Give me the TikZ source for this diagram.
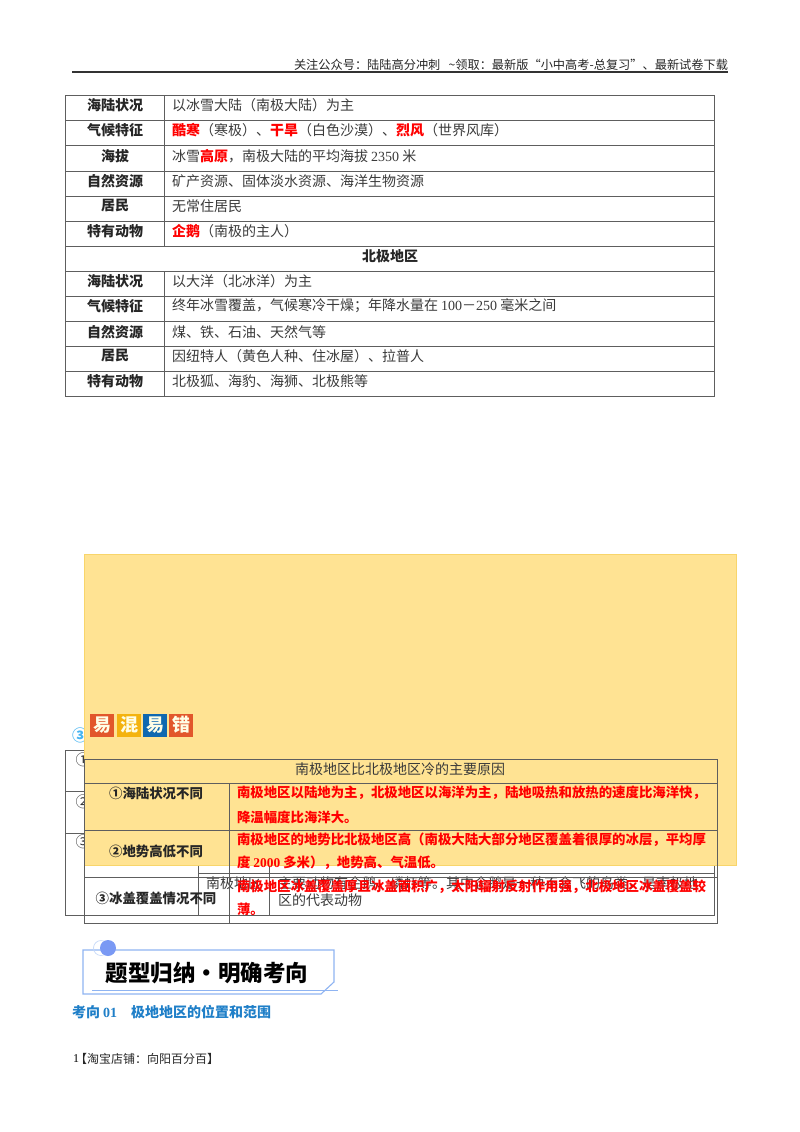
\documentclass[tikz,border=0pt]{standalone}
\usepackage{fontspec}
\setmainfont{Noto Sans CJK SC}
\newfontfamily\latinserif{Liberation Serif}
\newcommand{\dg}[1]{{\latinserif #1}}
\definecolor{ink}{HTML}{3A3A3A}
\definecolor{rule}{HTML}{5E5E5E}
\definecolor{paleyellow}{HTML}{FFE393}
\definecolor{edgeyellow}{HTML}{F8D56B}
\definecolor{headblue}{HTML}{1F7FC8}
\definecolor{framblue}{HTML}{8FB4F2}
\definecolor{tileorange}{HTML}{E2572B}
\definecolor{tileyellow}{HTML}{F4B30F}
\definecolor{tileblue}{HTML}{0F68B0}
\definecolor{circleblue}{HTML}{45B4F2}
\tikzset{
  every node/.style={inner sep=0pt,outer sep=0pt,anchor=center},
  gridline/.style={draw=rule,line width=1pt},
  head/.style={font=\fontsize{14}{14}\selectfont\bfseries,text=black!85},
  body/.style={font=\fontsize{14}{14}\selectfont,text=ink,anchor=west},
  small/.style={font=\fontsize{13.4}{13.4}\selectfont\bfseries,text=black!85},
  redtext/.style={font=\fontsize{13.4}{13.4}\selectfont\bfseries,text=red,anchor=west},
  under/.style={font=\fontsize{14}{14}\selectfont,text=ink,anchor=west},
  tile/.style={minimum width=23.5pt,minimum height=23pt,font=\fontsize{18}{18}\selectfont\bfseries,text=white!90!yellow},
}
\begin{document}
\begin{tikzpicture}[x=1pt,y=-1pt]
\useasboundingbox (0,0) rectangle (800,1132);
\fill[white] (0,0) rectangle (800,1132);
% running header
\node[anchor=east,font=\fontsize{12.2}{12}\selectfont,text=black!85] (hdr) at (728,65) {关注公众号：陆陆高分冲刺\ \ \ \textasciitilde 领取：最新版“小中高考-总复习”、最新试卷下载};
\draw[line width=2pt,black!80] (72,72) -- (728,72);
% upper table
\draw[gridline] (65,95.5) rectangle (714,396);
\foreach \yy in {120.5,145.5,171,196,221,246,271,296,321,346.5,371}
  \draw[gridline] (65,\yy) -- (714,\yy);
\draw[gridline] (164,95.5) -- (164,246);
\draw[gridline] (164,271) -- (164,396);
\node[head] (a1) at (115,105.5) {海陆状况};
\node[head] (a2) at (115,130) {气候特征};
\node[head] (a3) at (115,156) {海拔};
\node[head] (a4) at (115,181) {自然资源};
\node[head] (a5) at (115,206) {居民};
\node[head] (a6) at (115,231) {特有动物};
\node[head] (a7) at (390,256) {北极地区};
\node[head] (a8) at (115,281) {海陆状况};
\node[head] (a9) at (115,306) {气候特征};
\node[head] (a10) at (115,332) {自然资源};
\node[head] (a11) at (115,356) {居民};
\node[head] (a12) at (115,381) {特有动物};
\node[body] (b1) at (172,105.5) {以冰雪大陆（南极大陆）为主};
\node[body] (b2) at (172,130) {\textcolor{red}{\bfseries 酷寒}（寒极）、\textcolor{red}{\bfseries 干旱}（白色沙漠）、\textcolor{red}{\bfseries 烈风}（世界风库）};
\node[body] (b3) at (172,156) {冰雪\textcolor{red}{\bfseries 高原}，南极大陆的平均海拔 \dg{2350} 米};
\node[body] (b4) at (172,181) {矿产资源、固体淡水资源、海洋生物资源};
\node[body] (b5) at (172,206) {无常住居民};
\node[body] (b6) at (172,231) {\textcolor{red}{\bfseries 企鹅}（南极的主人）};
\node[body] (b8) at (172,281) {以大洋（北冰洋）为主};
\node[body] (b9) at (172,306) {终年冰雪覆盖，气候寒冷干燥；年降水量在 \dg{100}－\dg{250} 毫米之间};
\node[body] (b10) at (172,332) {煤、铁、石油、天然气等};
\node[body] (b11) at (172,356) {因纽特人（黄色人种、住冰屋）、拉普人};
\node[body] (b12) at (172,381) {北极狐、海豹、海狮、北极熊等};
% table lying underneath the yellow panel
\draw[gridline] (65,750) rectangle (714,915);
\draw[gridline] (65,791.7) -- (714,791.7);
\draw[gridline] (65,833) -- (714,833);
\draw[gridline] (198,873) -- (714,873);
\draw[gridline] (198,750) -- (198,915);
\draw[gridline] (269,750) -- (269,915);
\node[font=\fontsize{15}{15}\selectfont,text=black!80] (u1) at (83,760) {①};
\node[font=\fontsize{15}{15}\selectfont,text=black!80] (u2) at (83,802) {②};
\node[font=\fontsize{15}{15}\selectfont,text=black!80] (u3) at (83,842) {③};
\node[font=\fontsize{16}{16}\selectfont\bfseries,text=circleblue] (u0) at (80,735) {③};
\node[under] (u4) at (206,883) {南极地区};
\node[under] (u5) at (278,883) {主要动物有企鹅、磷虾等。其中企鹅是一种不会飞的鸟类，是南极地};
\node[under] (u6) at (278,900) {区的代表动物};
% yellow panel
\fill[paleyellow,draw=edgeyellow,line width=0.8pt] (84,554) rectangle (736,865.5);
% tiles
\node[tile,fill=tileorange] (t1) at (102,725) {易};
\node[tile,fill=tileyellow] (t2) at (129,725) {混};
\node[tile,fill=tileblue] (t3) at (155,725) {易};
\node[tile,fill=tileorange] (t4) at (181,725) {错};
% overlay table
\draw[gridline] (84,759) rectangle (717,923);
\draw[gridline] (84,783) -- (717,783);
\draw[gridline] (84,830) -- (717,830);
\draw[gridline] (84,877) -- (717,877);
\draw[gridline] (229,783) -- (229,923);
\node[font=\fontsize{14}{14}\selectfont,text=ink] (c0) at (400,769) {南极地区比北极地区冷的主要原因};
\node[small] (c1) at (156,793) {①海陆状况不同};
\node[small] (c2) at (156,851) {②地势高低不同};
\node[small] (c3) at (156,898) {③冰盖覆盖情况不同};
\node[redtext] (r1) at (237,793) {南极地区以陆地为主，北极地区以海洋为主，陆地吸热和放热的速度比海洋快，};
\node[redtext] (r2) at (237,817) {降温幅度比海洋大。};
\node[redtext] (r3) at (237,840) {南极地区的地势比北极地区高（南极大陆大部分地区覆盖着很厚的冰层，平均厚};
\node[redtext] (r4) at (237,863) {度 \dg{2000} 多米），地势高、气温低。};
\node[redtext] (r5) at (237,887) {南极地区冰盖覆盖厚且冰盖面积广，太阳辐射反射作用强，北极地区冰盖覆盖较};
\node[redtext] (r6) at (237,909) {薄。};
% banner
\draw[framblue,line width=1.1pt] (83,950) -- (334,950) -- (334,982) -- (321,994) -- (83,994) -- cycle;
\fill[white] (84,986) rectangle (92,993);
\draw[framblue,line width=0.7pt] (92,990) -- (338,990);
\draw[framblue!50,line width=0.7pt] (101,948) circle (7.5);
\fill[framblue!85!blue] (108,948) circle (8);
\node[font=\fontsize{22.5}{23}\selectfont\bfseries,text=black] (ban) at (207,973) {题型归纳·明确考向};
% section heading and footer
\node[anchor=west,font=\fontsize{14}{14}\selectfont\bfseries,text=headblue] (k1) at (72,1012) {考向 \dg{01}\hspace{14pt}极地地区的位置和范围};
\node[anchor=west,font=\fontsize{12}{12}\selectfont,text=black] (f0) at (73,1059) {\dg{1}};
\node[anchor=west,font=\fontsize{12}{12}\selectfont,text=black!85] (f1) at (75,1059) {【淘宝店铺：向阳百分百】};
\end{tikzpicture}
\end{document}
